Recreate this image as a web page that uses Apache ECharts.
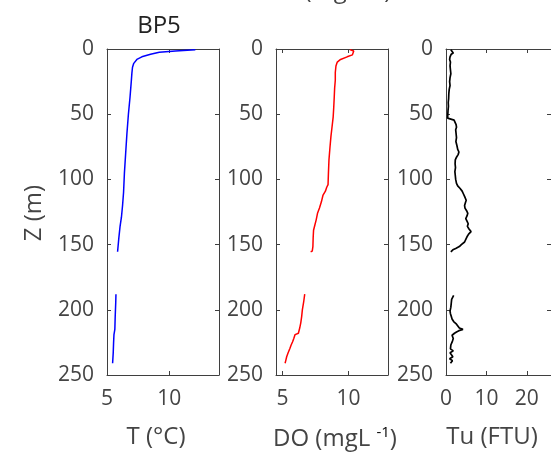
<!DOCTYPE html>
<html>
<head>
<meta charset="utf-8">
<script src="https://cdn.jsdelivr.net/npm/echarts@6/dist/echarts.min.js"></script>
<style>html,body{margin:0;padding:0;background:#fff;}#c{width:551px;height:460px;}</style>
</head>
<body>
<div id="c"></div>
<script>
// ---- Data (depth in m, null = gap) ----
var tDepth = [0.5,1.5,2.5,4,6,8,11,14,18.5,25,37,50,65,80,95,110,120,129,136,145,155.5,null,188,195,205,215,219,225,233,241];
var tValue = [12.1,10.5,9.2,8.5,7.8,7.4,7.15,7.05,7.0,6.95,6.85,6.72,6.6,6.5,6.4,6.33,6.25,6.16,6.05,5.95,5.85,null,5.72,5.7,5.66,5.63,5.56,5.53,5.5,5.45];

var doDepth = [0.5,1.5,3,4.5,6,8,10,13,18,24,30,37,45,52,60,67,75,85,95,104,106,109,112,117,122,126,131,135,139,145,151.5,155,155.5,null,188,194,200,205,210,214,218,219,222,224.5,227,229.5,233,236,239,241];
var doValue = [10.1,10.4,10.55,10.3,9.9,9.4,9.15,9.05,9.0,9.0,8.95,8.92,8.88,8.84,8.75,8.67,8.6,8.52,8.48,8.45,8.35,8.25,8.07,7.95,7.8,7.65,7.55,7.45,7.35,7.32,7.3,7.25,7.13,null,6.68,6.6,6.5,6.45,6.38,6.3,6.2,5.95,5.85,5.76,5.65,5.56,5.42,5.31,5.24,5.19];

var tuDepth = [0.5,1.5,3,4,6,8,10,13,16,19,22,25,28,31,34,38,41,44,47,50,53,54,54.5,56,58,60,62,65,68,71,74,77,79,81,83,85,88,91,94,97,100,103,105,107,109,111,113,116,118,120,122,124,126,128,130,132,134,136,138,140,142,144,146,148,150,151.5,153,154,155.5,null,189,190,192,195,198,201,203,205,207,209,211,212.5,214,215,216,217,218,219.5,221,222,224,225.5,227,228.5,230,231.5,233,234.5,236,237.5,239,240,241];
var tuValue = [1.2,1.6,1.8,1.3,1.0,0.9,1.1,1.0,1.1,1.2,1.0,0.9,1.0,0.8,0.7,0.65,0.55,0.6,0.5,0.45,0.4,0.4,2.0,2.3,2.5,2.6,2.4,2.5,2.6,2.45,2.7,2.9,3.2,3.0,2.6,2.3,2.25,2.35,2.2,2.3,2.4,2.6,2.9,3.5,4.0,4.3,4.6,5.0,4.8,4.6,4.7,5.1,5.4,5.2,4.9,5.2,5.5,5.3,5.7,6.2,5.6,5.2,4.9,4.6,3.8,3.3,2.4,1.7,1.2,null,1.9,1.5,1.4,1.3,1.2,1.0,1.1,1.3,1.5,1.9,2.6,3.0,3.3,4.2,3.2,2.6,2.1,1.5,1.3,1.8,1.6,1.9,1.2,0.8,1.1,1.8,1.0,1.4,1.7,0.9,1.6,1.2,1.1];

var depthTicks = [0,50,100,150,200,250];
var tTicks = [5,10];
var doTicks = [5,10];
var tuTicks = [0,10,20];

function pairs(d, v){ var out=[]; for(var i=0;i<d.length;i++){ out.push(d[i]===null?[null,null]:[v[i],d[i]]);} return out; }

var FONT = '"Open Sans", "DejaVu Sans", sans-serif';
var AX = '#3f3f3f';
var TXT = '#444';

var panels = [
  {left:107, xmin:5, xmax:14, ticks:tTicks, color:'#0000ff', d:tDepth, v:tValue},
  {left:276, xmin:4.5, xmax:13, ticks:doTicks, color:'#ff0000', d:doDepth, v:doValue},
  {left:446, xmin:0, xmax:26, ticks:tuTicks, color:'#000000', d:tuDepth, v:tuValue}
];

var grids=[], xAxes=[], yAxes=[], series=[];
panels.forEach(function(p, i){
  grids.push({left:p.left, top:49, width:112, height:326, show:false});
  var base = {type:'value', min:p.xmin, max:p.xmax, gridIndex:i,
    axisLine:{show:true, onZero:false, lineStyle:{color:AX, width:1}},
    splitLine:{show:false}};
  xAxes.push(Object.assign({}, base, {position:'bottom',
    axisTick:{show:true, inside:true, length:4, customValues:p.ticks, lineStyle:{color:AX}},
    axisLabel:{show:true, customValues:p.ticks, margin:14, fontSize:21, color:TXT, fontFamily:FONT}}));
  xAxes.push(Object.assign({}, base, {position:'top',
    axisTick:{show:true, inside:true, length:4, customValues:p.ticks, lineStyle:{color:AX}},
    axisLabel:{show:false}}));
  var ybase = {type:'value', min:0, max:250, interval:50, inverse:true, gridIndex:i,
    axisLine:{show:true, onZero:false, lineStyle:{color:AX, width:1}},
    splitLine:{show:false},
    axisTick:{show:true, inside:true, length:4, lineStyle:{color:AX}}};
  yAxes.push(Object.assign({}, ybase, {position:'left',
    axisLabel:{show:true, margin:13, fontSize:21, color:TXT, fontFamily:FONT}}));
  yAxes.push(Object.assign({}, ybase, {position:'right', axisLabel:{show:false}}));
  series.push({type:'line', xAxisIndex:i*2, yAxisIndex:i*2, data:pairs(p.d,p.v),
    showSymbol:false, symbol:'none', connectNulls:false, animation:false,
    lineStyle:{color:p.color, width: i===2?1.7:1.5}});
});

var chart = echarts.init(document.getElementById('c'), null, {renderer:'canvas'});
chart.setOption({
  animation:false,
  backgroundColor:'#fff',
  grid:grids, xAxis:xAxes, yAxis:yAxes, series:series,
  graphic:[
    {type:'text', x:159, y:26, style:{text:'BP5', font:'24px '+FONT, fill:'#222', textAlign:'center', textVerticalAlign:'middle'}},
    {type:'text', x:34, y:213, rotation:Math.PI/2, style:{text:'Z (m)', font:'24px '+FONT, fill:TXT, textAlign:'center', textVerticalAlign:'middle'}},
    {type:'text', x:156, y:437, style:{text:'T (°C)', font:'24px '+FONT, fill:TXT, textAlign:'center', textVerticalAlign:'middle'}},
    {type:'text', x:335, y:439, style:{text:'{a|DO (mgL }{b|-1}{a|)}', textAlign:'center', textVerticalAlign:'middle',
      rich:{a:{font:'24px '+FONT, fill:TXT, color:TXT}, b:{font:'15px '+FONT, color:TXT, padding:[0,0,12,0]}}}},
    {type:'text', x:492, y:437, style:{text:'Tu (FTU)', font:'24px '+FONT, fill:TXT, textAlign:'center', textVerticalAlign:'middle'}},
    {type:'text', x:348, y:-9, style:{text:'(mg L   )', font:'24px '+FONT, fill:TXT, textAlign:'center', textVerticalAlign:'middle'}}
  ]
});
</script>
</body>
</html>
